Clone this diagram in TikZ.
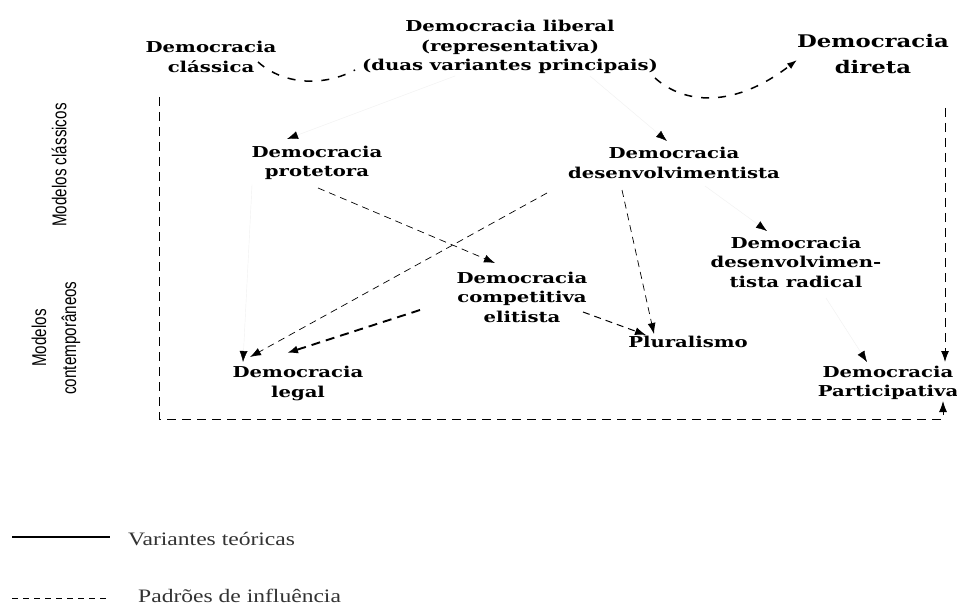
\documentclass[tikz,border=0pt]{standalone}
\usepackage{fontspec}
\newfontfamily\nodeff{DejaVu Serif}[FakeStretch=1.31]
\newfontfamily\condff{Liberation Sans}[FakeStretch=0.76]
\newfontfamily\legff{Liberation Serif}[FakeStretch=1.24]
\usetikzlibrary{arrows.meta,calc}
\begin{document}
\begin{tikzpicture}[x=1pt,y=-1pt,
  model/.style={font=\nodeff\bfseries\fontsize{15}{19.5}\selectfont, align=center, inner sep=0pt},
  bigmodel/.style={font=\nodeff\bfseries\fontsize{17.4}{26}\selectfont, align=center, inner sep=0pt},
  side/.style={font=\condff\fontsize{20}{30}\selectfont, align=center, inner sep=0pt, rotate=90},
  legend/.style={font=\legff\fontsize{19}{22}\selectfont, inner sep=0pt, text=black!80},
  tip/.style={-{Latex[length=11pt,width=8pt,color=black,fill=black]}},
  thindash/.style={tip, line width=0.7pt, dash pattern=on 7pt off 5pt},
  thickdash/.style={tip, line width=1.9pt, dash pattern=on 9pt off 6pt},
  boxdash/.style={line width=0.9pt, dash pattern=on 9pt off 6pt},
  curvedash/.style={line width=1.5pt, dash pattern=on 8pt off 9pt},
  faint/.style={tip, line width=0.4pt, draw=black!6}
]
\useasboundingbox[fill=white] (0,0) rectangle (957,612);

% nodes
\node[model] (clas) at (211,57) {Democracia\\clássica};
\node[model] (lib) at (510,47) {Democracia liberal\\(representativa)\\(duas variantes principais)};
\node[bigmodel] (dir) at (873,54) {Democracia\\direta};
\node[model] (prot) at (317,163) {Democracia\\protetora};
\node[model] (desv) at (674,163) {Democracia\\desenvolvimentista};
\node[model] (rad) at (796,262) {Democracia\\desenvolvimen-\\tista radical};
\node[model] (comp) at (522,297) {Democracia\\competitiva\\elitista};
\node[model] (plur) at (688,342) {Pluralismo};
\node[model] (legal) at (298,383.5) {Democracia\\legal};
\node[model] (part) at (888,383) {Democracia\\Participativa};

% side labels
\node[side] (mcl) at (59,165) {Modelos clássicos};
\node[side] (mct) at (56,338) {Modelos\\contemporâneos};

% theoretical variants (barely visible in the scan)
\draw[faint] ($(lib.center)+(-55,29)$) -- ($(prot.center)+(-30,-24)$);
\draw[faint] ($(lib.center)+(80,29)$) -- ($(desv.center)+(-7,-22)$);
\draw[faint] ($(desv.center)+(31,23)$) -- ($(rad.center)+(-29,-31)$);
\draw[faint] ($(rad.center)+(30,36)$) -- ($(part.center)+(-21,-21)$);
\draw[faint] ($(prot.center)+(-65,22)$) -- ($(legal.center)+(-55,-21.5)$);

% influence patterns
\draw[thindash] ($(prot.center)+(1,25)$) -- ($(comp.center)+(-27,-34)$);
\draw[thindash] ($(desv.center)+(-127,30)$) -- ($(legal.center)+(-48,-26.5)$);
\draw[thindash] ($(desv.center)+(-52,27)$) -- ($(plur.center)+(-34,-8)$);
\draw[thindash, line width=1pt] ($(comp.center)+(61,15)$) -- ($(plur.center)+(-42,-7)$);
\draw[thickdash] ($(comp.center)+(-102,13)$) -- ($(legal.center)+(-11,-30.5)$);

% curves at top
\draw[curvedash] ($(clas.center)+(47,5)$) .. controls (285,86) and (325,86) .. ($(lib.center)+(-155,23)$);
\draw[curvedash, -{Latex[length=10pt,width=7pt]}] ($(lib.center)+(145,31)$) .. controls (685,105) and (735,108) .. ($(dir.center)+(-76,6)$);

% box lines
\draw[boxdash, -{Latex[length=11pt,width=8pt]}] ($(clas.center)+(-52,40)$) |- ($(part.center)+(55,36)$) -- ($(part.center)+(55,18)$);
\draw[boxdash, -{Latex[length=11pt,width=8pt]}] ($(dir.center)+(72,54)$) -- ($(part.center)+(57,-21)$);

% legend
\coordinate (ls1) at (12,537);
\coordinate (ls2) at (110,537);
\draw[line width=2pt] (ls1) -- (ls2);
\node[legend, anchor=base west] (lv) at (128,545) {Variantes teóricas};
\coordinate (ld1) at (12,598);
\coordinate (ld2) at (110,598);
\draw[line width=0.8pt, dash pattern=on 6pt off 5pt] (ld1) -- (ld2);
\node[legend, anchor=base west] (lp) at (138,602) {Padrões de influência};
\end{tikzpicture}
\end{document}
